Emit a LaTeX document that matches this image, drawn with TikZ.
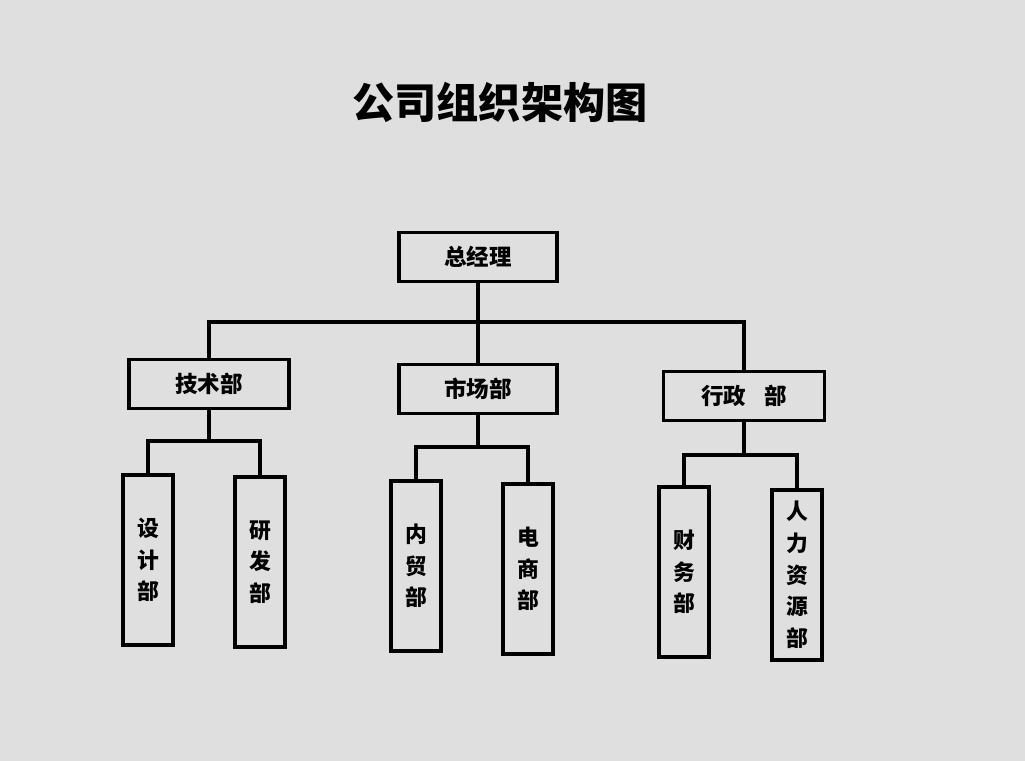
\documentclass[tikz,border=0pt]{standalone}
\usepackage{fontspec}
\setmainfont{Noto Sans CJK SC}
\usepackage{tikz}
\usetikzlibrary{positioning, calc}
\definecolor{paper}{RGB}{222,223,222}

\begin{document}
\begin{tikzpicture}[
		x=0.025cm, y=-0.025cm,
		every node/.style={font=\bfseries},
		unit/.style={draw=black, line width=2.4pt, minimum width=3.95cm, minimum height=1.23cm, align=center, font=\bfseries\fontsize{16}{18}\selectfont},
		leaf/.style={draw=black, line width=2.4pt, minimum width=1.25cm, minimum height=4.25cm, align=center, font=\bfseries\fontsize{15.5}{22.5}\selectfont},
		link/.style={line width=2.4pt, draw=black}
		]
		
		% Fondo
		\fill[paper] (0,0) rectangle (1025,761);
		\useasboundingbox (0,0) rectangle (1025,761);
		
		% Titulo
		\node[font=\bfseries\fontsize{30}{33}\selectfont] (title) at (500,102) {公司组织架构图};
		
		% Nodos
		\node[unit] (gm) at (478,257) {总经理};
		\node[unit, minimum width=4cm] (tech) at (209,384) {技术部};
		\node[unit] (market) at (478,389) {市场部};
		\node[unit, minimum width=4.02cm] (admin) at (744,396) {行政\hspace{0.8em}部};
		
		\node[leaf] (design) at (148,560) {设\\计\\部};
		\node[leaf] (rnd) at (260,562) {研\\发\\部};
		\node[leaf] (trade) at (416,566) {内\\贸\\部};
		\node[leaf] (ecom) at (528,569) {电\\商\\部};
		\node[leaf] (finance) at (684,572) {财\\务\\部};
		\node[leaf] (hr) at (797,575) {人\\力\\资\\源\\部};
		
		% Lineas
		\coordinate (busTop) at (478,322);
		\draw[link] (gm.south) -- (busTop);
		\draw[link] (tech.north) |- (busTop) -| (admin.north);
		\draw[link] (busTop) -- (market.north);
		
		\coordinate (busTech) at (209,441);
		\draw[link] (tech.south) -- (busTech);
		\draw[link] (design.north) |- (busTech) -| (rnd.north);
		
		\coordinate (busMarket) at (478,447);
		\draw[link] (market.south) -- (busMarket);
		\draw[link] (trade.north) |- (busMarket) -| (ecom.north);
		
		\coordinate (busAdmin) at (744,455);
		\draw[link] (admin.south) -- (busAdmin);
		\draw[link] (finance.north) |- (busAdmin) -| (hr.north);
	\end{tikzpicture}
\end{document}
